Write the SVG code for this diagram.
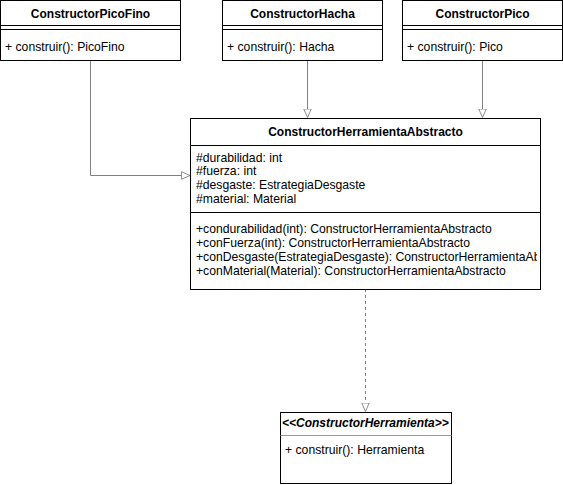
<svg xmlns="http://www.w3.org/2000/svg" width="563" height="485" viewBox="0 0 563 485">
  <style>
    .box { fill: #ffffff; stroke: #000000; stroke-width: 1; }
    .sep { stroke: #000000; stroke-width: 1; }
    .sepg { stroke: #999999; stroke-width: 1; }
    .title { font-family: "Liberation Sans", Arial, sans-serif; font-size: 12px; font-weight: bold; text-anchor: middle; fill: #000; }
    .ital { font-family: "Liberation Sans", Arial, sans-serif; font-size: 12px; font-weight: bold; font-style: italic; fill: #000; }
    .txt { font-family: "Liberation Sans", Arial, sans-serif; font-size: 12.2px; fill: #000; }
    .link { fill: none; stroke: #808080; stroke-width: 1; }
    .dash { fill: none; stroke: #808080; stroke-width: 1; stroke-dasharray: 3,3; }
  </style>
  <defs>
    <!-- hollow triangle head for generalization / realization -->
    <marker id="tri" viewBox="0 0 10 10" refX="10" refY="5" markerWidth="9" markerHeight="9" markerUnits="userSpaceOnUse" orient="auto">
      <path d="M0.5,0.8 L10,5 L0.5,9.2 Z" fill="#ffffff" stroke="#808080" stroke-width="1"/>
    </marker>
    <!-- long method signatures are cut at the class border -->
    <clipPath id="absClip">
      <rect x="191" y="118" width="346" height="171"/>
    </clipPath>
  </defs>
  <rect width="563" height="485" fill="#ffffff"/>

  <g id="connectors">
    <path class="link" d="M90.5,60 V175.5 H190" marker-end="url(#tri)"/>
    <path class="link" d="M307.5,60 V117.5" marker-end="url(#tri)"/>
    <path class="link" d="M482.5,60 V117.5" marker-end="url(#tri)"/>
    <path class="dash" d="M365.5,289 V411.5" marker-end="url(#tri)"/>
  </g>

  <g id="ConstructorPicoFino">
    <rect class="box" x="0.5" y="0.5" width="180" height="60"/>
    <line class="sep" x1="0.5" y1="25.5" x2="180.5" y2="25.5"/>
    <line class="sep" x1="0.5" y1="29.5" x2="180.5" y2="29.5"/>
    <text class="title" x="90.5" y="18">ConstructorPicoFino</text>
    <text class="txt" x="5" y="51">+ construir(): PicoFino</text>
  </g>

  <g id="ConstructorHacha">
    <rect class="box" x="222.5" y="0.5" width="160" height="60"/>
    <line class="sep" x1="222.5" y1="25.5" x2="382.5" y2="25.5"/>
    <line class="sep" x1="222.5" y1="29.5" x2="382.5" y2="29.5"/>
    <text class="title" x="302.5" y="18">ConstructorHacha</text>
    <text class="txt" x="227" y="51">+ construir(): Hacha</text>
  </g>

  <g id="ConstructorPico">
    <rect class="box" x="402.5" y="0.5" width="160" height="60"/>
    <line class="sep" x1="402.5" y1="25.5" x2="562.5" y2="25.5"/>
    <line class="sep" x1="402.5" y1="29.5" x2="562.5" y2="29.5"/>
    <text class="title" x="482.5" y="18">ConstructorPico</text>
    <text class="txt" x="407" y="51">+ construir(): Pico</text>
  </g>

  <g id="ConstructorHerramientaAbstracto">
    <rect class="box" x="190.5" y="118.5" width="350" height="171"/>
    <line class="sep" x1="190.5" y1="145.5" x2="540.5" y2="145.5"/>
    <line class="sep" x1="190.5" y1="212.5" x2="540.5" y2="212.5"/>
    <text class="title" x="365.5" y="136">ConstructorHerramientaAbstracto</text>
    <g clip-path="url(#absClip)">
      <text class="txt" x="196" y="162">#durabilidad: int</text>
      <text class="txt" x="196" y="175">#fuerza: int</text>
      <text class="txt" x="196" y="189">#desgaste: EstrategiaDesgaste</text>
      <text class="txt" x="196" y="203">#material: Material</text>
      <text class="txt" x="196" y="233">+condurabilidad(int): ConstructorHerramientaAbstracto</text>
      <text class="txt" x="196" y="247">+conFuerza(int): ConstructorHerramientaAbstracto</text>
      <text class="txt" x="196" y="261">+conDesgaste(EstrategiaDesgaste): ConstructorHerramientaAbstracto</text>
      <text class="txt" x="196" y="275">+conMaterial(Material): ConstructorHerramientaAbstracto</text>
    </g>
  </g>

  <g id="ConstructorHerramienta">
    <rect class="box" x="280.5" y="412.5" width="171" height="71"/>
    <line class="sepg" x1="280.5" y1="435.5" x2="451.5" y2="435.5"/>
    <text class="ital" x="282" y="427">&lt;&lt;ConstructorHerramienta&gt;&gt;</text>
    <text class="txt" x="285" y="454">+ construir(): Herramienta</text>
  </g>
</svg>
